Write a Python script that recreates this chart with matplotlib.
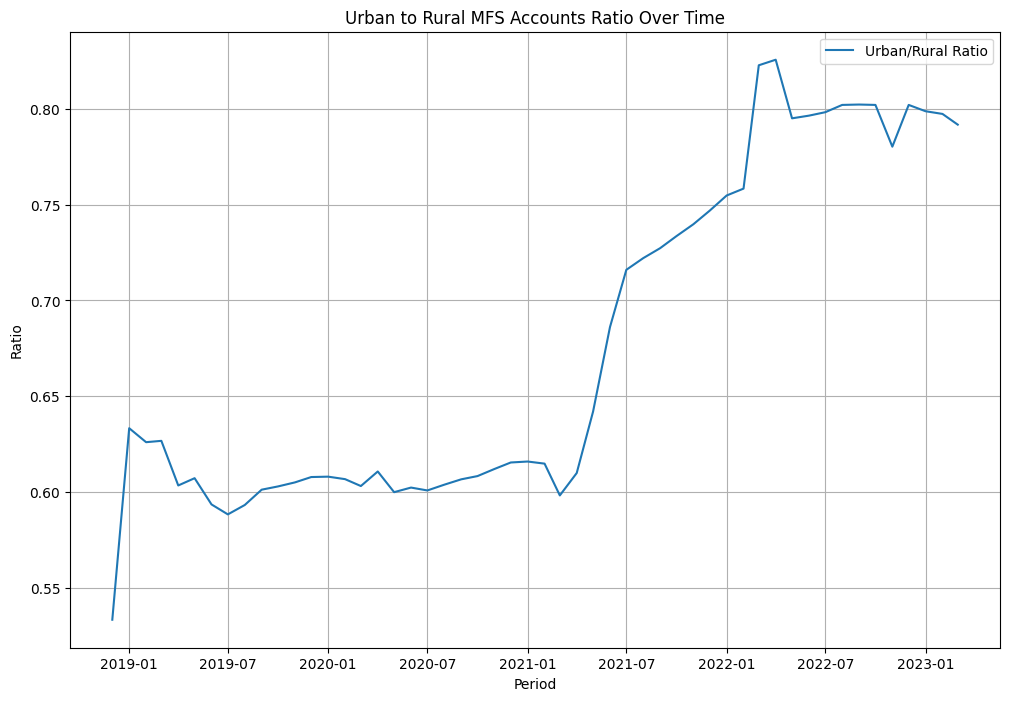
import pandas as pd
import matplotlib
matplotlib.use('Agg')
import matplotlib.pyplot as plt

# monthly periods, Dec 2018 .. Mar 2023
periods = pd.date_range('2018-12-01', '2023-03-01', freq='MS')

ratio = [
    0.5333, 0.6333, 0.6260, 0.6267, 0.6034, 0.6072, 0.5935, 0.5883,
    0.5932, 0.6012, 0.6029, 0.6050, 0.6078, 0.6080, 0.6067, 0.6031,
    0.6107, 0.5999, 0.6023, 0.6008, 0.6038, 0.6066, 0.6083, 0.6120,
    0.6154, 0.6159, 0.6148, 0.5982, 0.6099, 0.6420, 0.6861, 0.7160,
    0.7221, 0.7273, 0.7336, 0.7398, 0.7469, 0.7548, 0.7584, 0.8228,
    0.8257, 0.7951, 0.7965, 0.7983, 0.8021, 0.8023, 0.8021, 0.7803,
    0.8021, 0.7988, 0.7974, 0.7918,
]

fig, ax = plt.subplots(figsize=(12, 8))
ax.plot(periods, ratio, label='Urban/Rural Ratio')
ax.set_title('Urban to Rural MFS Accounts Ratio Over Time')
ax.set_xlabel('Period')
ax.set_ylabel('Ratio')
ax.legend()
ax.grid(True)

fig.savefig('out.png', dpi=100, bbox_inches='tight')
